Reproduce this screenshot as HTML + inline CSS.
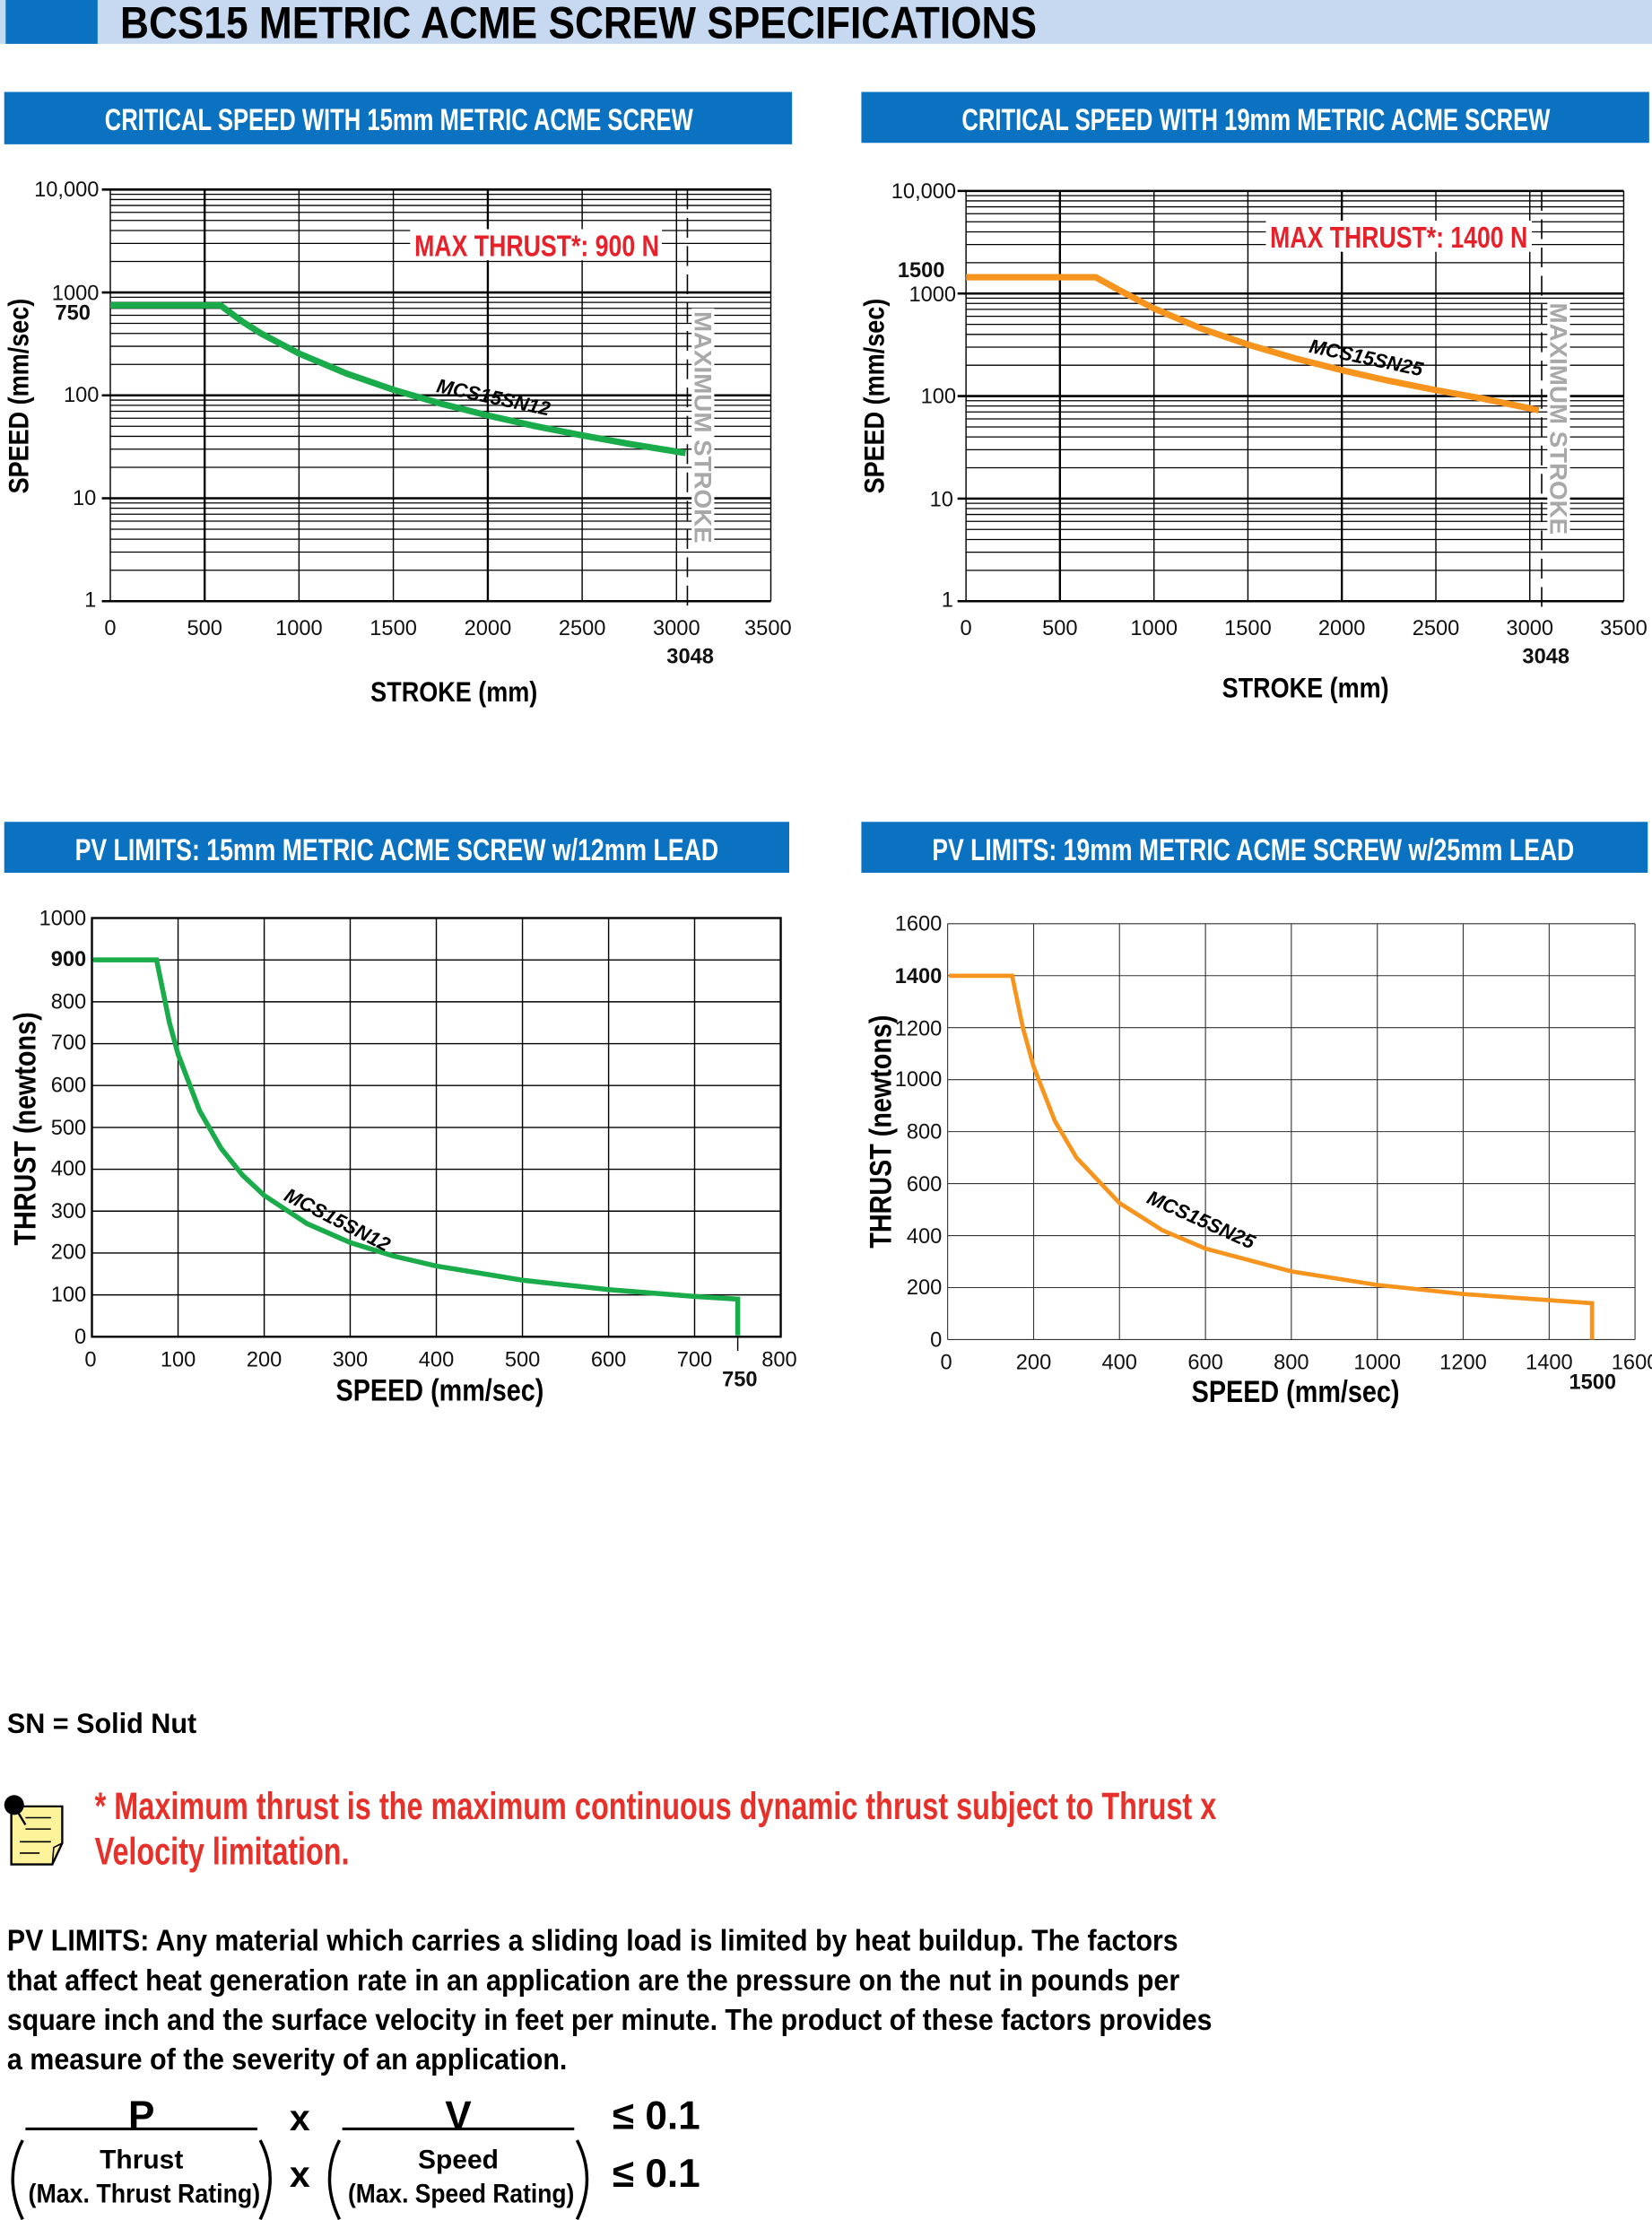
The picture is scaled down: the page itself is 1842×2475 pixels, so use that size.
<!DOCTYPE html>
<html><head><meta charset="utf-8"><style>
html,body{margin:0;padding:0;background:#fff;}
svg{display:block;}
text{font-family:"Liberation Sans Narrow","Liberation Sans",sans-serif;}
.b{font-weight:bold;}
.t{font-size:15px;fill:#111;}
</style></head><body>
<svg width="1842" height="2475" viewBox="0 0 1168 1569.4" preserveAspectRatio="none" xmlns="http://www.w3.org/2000/svg">
<!-- title -->
<rect x="0" y="0" width="1168" height="31" fill="#c6d9f0"/>
<rect x="4" y="0" width="65" height="31" fill="#0a72c0"/>
<text x="85" y="27" class="b" font-size="32" textLength="648" lengthAdjust="spacingAndGlyphs">BCS15 METRIC ACME SCREW SPECIFICATIONS</text>

<!-- headers -->
<rect x="3" y="65" width="557" height="37" fill="#0a72c0"/>
<text x="74" y="92" class="b" font-size="22" fill="#fff" textLength="416" lengthAdjust="spacingAndGlyphs">CRITICAL SPEED WITH 15mm METRIC ACME SCREW</text>
<rect x="609" y="65" width="557" height="36" fill="#0a72c0"/>
<text x="680" y="92" class="b" font-size="22" fill="#fff" textLength="416" lengthAdjust="spacingAndGlyphs">CRITICAL SPEED WITH 19mm METRIC ACME SCREW</text>
<rect x="3" y="581" width="555" height="36" fill="#0a72c0"/>
<text x="53" y="608" class="b" font-size="22" fill="#fff" textLength="455" lengthAdjust="spacingAndGlyphs">PV LIMITS: 15mm  METRIC ACME SCREW w/12mm LEAD</text>
<rect x="609" y="581" width="556" height="36" fill="#0a72c0"/>
<text x="659" y="608" class="b" font-size="22" fill="#fff" textLength="454" lengthAdjust="spacingAndGlyphs">PV LIMITS: 19mm  METRIC ACME SCREW w/25mm LEAD</text>

<!-- CHART 1 -->
<g stroke="#000" fill="none">
<path stroke-width="0.8" d="M78,403.1H545M78,390.3H545M78,381.2H545M78,374.1H545M78,368.4H545M78,363.5H545M78,359.3H545M78,355.6H545
M78,330.35H545M78,317.55H545M78,308.45H545M78,301.35H545M78,295.65H545M78,290.75H545M78,286.55H545M78,282.85H545
M78,257.6H545M78,244.8H545M78,235.7H545M78,228.6H545M78,222.9H545M78,218H545M78,213.8H545M78,210.1H545
M78,184.85H545M78,172.05H545M78,162.95H545M78,155.85H545M78,150.15H545M78,145.25H545M78,141.05H545M78,137.35H545"/>
<g stroke-width="1.6"><line x1="72" x2="545" y1="134" y2="134"/><line x1="72" x2="545" y1="206.75" y2="206.75"/><line x1="72" x2="545" y1="279.5" y2="279.5"/><line x1="72" x2="545" y1="352.25" y2="352.25"/><line x1="72" x2="545" y1="425" y2="425"/></g>
<g stroke-width="0.9"><line x1="78" x2="78" y1="134" y2="425"/><line x1="211.4" x2="211.4" y1="134" y2="425"/><line x1="278.1" x2="278.1" y1="134" y2="425"/><line x1="411.6" x2="411.6" y1="134" y2="425"/><line x1="478.3" x2="478.3" y1="134" y2="425"/><line x1="545" x2="545" y1="134" y2="425"/></g>
<g stroke-width="1.5"><line x1="144.7" x2="144.7" y1="134" y2="425"/><line x1="344.9" x2="344.9" y1="134" y2="425"/></g>
<line x1="486" x2="486" y1="134" y2="430" stroke-width="1" stroke-dasharray="14,6"/>
</g>
<rect x="290" y="162" width="178" height="22" fill="#fff"/>
<text x="293" y="181" class="b" font-size="21" fill="#e8202a" textLength="173" lengthAdjust="spacingAndGlyphs">MAX THRUST*: 900 N</text>
<rect x="489" y="218" width="16" height="168" fill="#fff"/>
<text transform="translate(491,220) rotate(90)" class="b" font-size="17" fill="#a8a8a8" textLength="164" lengthAdjust="spacingAndGlyphs">MAXIMUM STROKE</text>
<polyline fill="none" stroke="#1aab4b" stroke-width="4.5" points="78,215.8 155.8,215.8 171.4,227.4 184.7,235.8 211.4,249.9 244.8,264 278.1,275.5 311.5,285.3 344.9,293.7 378.2,301.2 411.6,307.8 444.9,313.8 484.7,320.3"/>
<text transform="translate(308,277) rotate(12)" class="b" font-size="14" font-style="italic">MCS15SN12</text>
<g class="t" text-anchor="end">
<text x="70" y="139">10,000</text><text x="70" y="212">1000</text><text x="64" y="226" class="b">750</text><text x="70" y="284">100</text><text x="68" y="357">10</text><text x="68" y="429">1</text>
</g>
<g class="t" text-anchor="middle">
<text x="78" y="449">0</text><text x="144.7" y="449">500</text><text x="211.4" y="449">1000</text><text x="278.1" y="449">1500</text><text x="344.9" y="449">2000</text><text x="411.6" y="449">2500</text><text x="478.3" y="449">3000</text><text x="543" y="449">3500</text>
<text x="488" y="469" class="b">3048</text>
</g>
<text x="321" y="496" class="b" font-size="20" text-anchor="middle" textLength="118" lengthAdjust="spacingAndGlyphs">STROKE (mm)</text>
<text transform="translate(20,280) rotate(-90)" class="b" font-size="20" text-anchor="middle" textLength="138" lengthAdjust="spacingAndGlyphs">SPEED (mm/sec)</text>

<!-- CHART 2 -->
<g stroke="#000" fill="none">
<path stroke-width="0.8" d="M683,403.2H1148M683,390.4H1148M683,381.4H1148M683,374.3H1148M683,368.6H1148M683,363.7H1148M683,359.5H1148M683,355.8H1148
M683,330.7H1148M683,317.9H1148M683,308.9H1148M683,301.8H1148M683,296.1H1148M683,291.2H1148M683,287H1148M683,283.3H1148
M683,258.2H1148M683,245.4H1148M683,236.4H1148M683,229.3H1148M683,223.6H1148M683,218.7H1148M683,214.5H1148M683,210.8H1148
M683,185.7H1148M683,172.9H1148M683,163.9H1148M683,156.8H1148M683,151.1H1148M683,146.2H1148M683,142H1148M683,138.3H1148"/>
<g stroke-width="1.6"><line x1="677" x2="1148" y1="135" y2="135"/><line x1="677" x2="1148" y1="207.5" y2="207.5"/><line x1="677" x2="1148" y1="280" y2="280"/><line x1="677" x2="1148" y1="352.5" y2="352.5"/><line x1="677" x2="1148" y1="425" y2="425"/></g>
<g stroke-width="0.9"><line x1="683" x2="683" y1="135" y2="425"/><line x1="815.9" x2="815.9" y1="135" y2="425"/><line x1="882.3" x2="882.3" y1="135" y2="425"/><line x1="1015.2" x2="1015.2" y1="135" y2="425"/><line x1="1081.6" x2="1081.6" y1="135" y2="425"/><line x1="1148" x2="1148" y1="135" y2="425"/></g>
<g stroke-width="1.5"><line x1="749.4" x2="749.4" y1="135" y2="425"/><line x1="948.7" x2="948.7" y1="135" y2="425"/></g>
<line x1="1090" x2="1090" y1="135" y2="430" stroke-width="1" stroke-dasharray="14,6"/>
</g>
<rect x="895" y="156" width="188" height="22" fill="#fff"/>
<text x="898" y="175" class="b" font-size="21" fill="#e8202a" textLength="182" lengthAdjust="spacingAndGlyphs">MAX THRUST*: 1400 N</text>
<rect x="1094" y="212" width="16" height="168" fill="#fff"/>
<text transform="translate(1096,214) rotate(90)" class="b" font-size="17" fill="#a8a8a8" textLength="164" lengthAdjust="spacingAndGlyphs">MAXIMUM STROKE</text>
<polyline fill="none" stroke="#f7941d" stroke-width="4.5" points="683,196 774.7,196 789.3,204 815.9,218.1 849.1,232.2 882.3,243.6 915.5,253.3 948.7,261.7 981.9,269.2 1015.2,275.8 1048.4,281.8 1088,290"/>
<text transform="translate(925,249) rotate(12)" class="b" font-size="14" font-style="italic">MCS15SN25</text>
<g class="t" text-anchor="end">
<text x="676" y="140">10,000</text><text x="668" y="196" class="b">1500</text><text x="676" y="213">1000</text><text x="676" y="285">100</text><text x="674" y="358">10</text><text x="674" y="429">1</text>
</g>
<g class="t" text-anchor="middle">
<text x="683" y="449">0</text><text x="749.4" y="449">500</text><text x="815.9" y="449">1000</text><text x="882.3" y="449">1500</text><text x="948.7" y="449">2000</text><text x="1015.2" y="449">2500</text><text x="1081.6" y="449">3000</text><text x="1148" y="449">3500</text>
<text x="1093" y="469" class="b">3048</text>
</g>
<text x="923" y="493" class="b" font-size="20" text-anchor="middle" textLength="118" lengthAdjust="spacingAndGlyphs">STROKE (mm)</text>
<text transform="translate(625,280) rotate(-90)" class="b" font-size="20" text-anchor="middle" textLength="138" lengthAdjust="spacingAndGlyphs">SPEED (mm/sec)</text>

<!-- PV 1 -->
<g stroke="#000" stroke-width="0.9" fill="none">
<line x1="65" x2="552" y1="678.6" y2="678.6"/><line x1="65" x2="552" y1="708.2" y2="708.2"/><line x1="65" x2="552" y1="737.8" y2="737.8"/><line x1="65" x2="552" y1="767.4" y2="767.4"/><line x1="65" x2="552" y1="797" y2="797"/><line x1="65" x2="552" y1="826.6" y2="826.6"/><line x1="65" x2="552" y1="856.2" y2="856.2"/><line x1="65" x2="552" y1="885.8" y2="885.8"/><line x1="65" x2="552" y1="915.4" y2="915.4"/>
<line x1="125.9" x2="125.9" y1="649" y2="945"/><line x1="186.8" x2="186.8" y1="649" y2="945"/><line x1="247.6" x2="247.6" y1="649" y2="945"/><line x1="308.5" x2="308.5" y1="649" y2="945"/><line x1="369.4" x2="369.4" y1="649" y2="945"/><line x1="430.3" x2="430.3" y1="649" y2="945"/><line x1="491.1" x2="491.1" y1="649" y2="945"/>
<line x1="521.6" x2="521.6" y1="945" y2="955"/>
<rect x="65" y="649" width="487" height="296" stroke-width="1.5"/>
</g>
<polyline fill="none" stroke="#1aab4b" stroke-width="3.5" points="66,678.6 110.7,678.6 119.8,723 125.9,745.2 141.1,785.2 156.3,811.8 171.5,830.8 186.8,845.1 217.2,865.1 247.6,878.4 278.1,887.9 308.5,895 369.4,905 430.3,911.7 491.1,916.5 521.6,918.4 521.6,944"/>
<text transform="translate(200,848) rotate(27)" class="b" font-size="14" font-style="italic">MCS15SN12</text>
<g class="t" text-anchor="end">
<text x="61" y="654">1000</text><text x="61" y="683" class="b">900</text><text x="61" y="713">800</text><text x="61" y="742">700</text><text x="61" y="772">600</text><text x="61" y="802">500</text><text x="61" y="831">400</text><text x="61" y="861">300</text><text x="61" y="890">200</text><text x="61" y="920">100</text><text x="61" y="950">0</text>
</g>
<g class="t" text-anchor="middle">
<text x="64" y="966">0</text><text x="125.9" y="966">100</text><text x="186.8" y="966">200</text><text x="247.6" y="966">300</text><text x="308.5" y="966">400</text><text x="369.4" y="966">500</text><text x="430.3" y="966">600</text><text x="491.1" y="966">700</text><text x="551" y="966">800</text>
<text x="523" y="980" class="b">750</text>
</g>
<text x="311" y="990" class="b" font-size="22" text-anchor="middle" textLength="147" lengthAdjust="spacingAndGlyphs">SPEED (mm/sec)</text>
<text transform="translate(25,798) rotate(-90)" class="b" font-size="22" text-anchor="middle" textLength="165" lengthAdjust="spacingAndGlyphs">THRUST (newtons)</text>

<!-- PV 2 -->
<g stroke="#333" stroke-width="0.7" fill="none">
<line x1="670" x2="1156" y1="653" y2="653"/><line x1="670" x2="1156" y1="689.75" y2="689.75"/><line x1="670" x2="1156" y1="726.5" y2="726.5"/><line x1="670" x2="1156" y1="763.25" y2="763.25"/><line x1="670" x2="1156" y1="800" y2="800"/><line x1="670" x2="1156" y1="836.75" y2="836.75"/><line x1="670" x2="1156" y1="873.5" y2="873.5"/><line x1="670" x2="1156" y1="910.25" y2="910.25"/><line x1="670" x2="1156" y1="947" y2="947"/>
<line x1="670" x2="670" y1="653" y2="947"/><line x1="730.8" x2="730.8" y1="653" y2="947"/><line x1="791.5" x2="791.5" y1="653" y2="947"/><line x1="852.3" x2="852.3" y1="653" y2="947"/><line x1="913" x2="913" y1="653" y2="947"/><line x1="973.8" x2="973.8" y1="653" y2="947"/><line x1="1034.5" x2="1034.5" y1="653" y2="947"/><line x1="1095.3" x2="1095.3" y1="653" y2="947"/><line x1="1156" x2="1156" y1="653" y2="947"/>
</g>
<polyline fill="none" stroke="#f7941d" stroke-width="3" points="671,689.8 715.6,689.8 723.2,726.5 730.8,754.1 745.9,792.7 761.1,818.4 791.5,850.5 821.9,869.8 852.3,882.7 913,898.8 973.8,908.4 1034.5,914.8 1125.6,921.3 1125.6,947"/>
<text transform="translate(810,850) rotate(24)" class="b" font-size="14" font-style="italic">MCS15SN25</text>
<g class="t" text-anchor="end">
<text x="666" y="658">1600</text><text x="666" y="695" class="b">1400</text><text x="666" y="732">1200</text><text x="666" y="768">1000</text><text x="666" y="805">800</text><text x="666" y="842">600</text><text x="666" y="879">400</text><text x="666" y="915">200</text><text x="666" y="952">0</text>
</g>
<g class="t" text-anchor="middle">
<text x="669" y="968">0</text><text x="730.8" y="968">200</text><text x="791.5" y="968">400</text><text x="852.3" y="968">600</text><text x="913" y="968">800</text><text x="973.8" y="968">1000</text><text x="1034.5" y="968">1200</text><text x="1095.3" y="968">1400</text><text x="1156" y="968">1600</text>
<text x="1126" y="982" class="b">1500</text>
</g>
<text x="916" y="991" class="b" font-size="22" text-anchor="middle" textLength="147" lengthAdjust="spacingAndGlyphs">SPEED (mm/sec)</text>
<text transform="translate(630,800) rotate(-90)" class="b" font-size="22" text-anchor="middle" textLength="165" lengthAdjust="spacingAndGlyphs">THRUST (newtons)</text>

<!-- bottom text -->
<text x="5" y="1225" class="b" font-size="20" textLength="134" lengthAdjust="spacingAndGlyphs">SN = Solid Nut</text>
<g>
<path d="M8,1277 H44 V1303 L37,1318 H8 Z" fill="#fdf39a" stroke="#000" stroke-width="1.5"/>
<path d="M37,1318 L38,1306 L44,1303" fill="none" stroke="#000" stroke-width="1"/>
<g stroke="#000" stroke-width="1" fill="none"><path d="M18,1285 h18"/><path d="M18,1293 h18"/><path d="M14,1302 h22"/><path d="M14,1310 h14"/></g>
<circle cx="10" cy="1276" r="7" fill="#000"/><line x1="12" y1="1280" x2="18" y2="1290" stroke="#000" stroke-width="1.5"/>
</g>
<text x="67" y="1286" class="b" font-size="27" fill="#e8302a" textLength="793" lengthAdjust="spacingAndGlyphs">* Maximum thrust is the maximum continuous dynamic thrust subject to Thrust x</text>
<text x="67" y="1318" class="b" font-size="27" fill="#e8302a" textLength="180" lengthAdjust="spacingAndGlyphs">Velocity limitation.</text>
<g class="b" font-size="21">
<text x="5" y="1379" textLength="828" lengthAdjust="spacingAndGlyphs">PV LIMITS: Any material which carries a sliding load is limited by heat buildup. The factors</text>
<text x="5" y="1407" textLength="829" lengthAdjust="spacingAndGlyphs">that affect heat generation rate in an application are the pressure on the nut in pounds per</text>
<text x="5" y="1435" textLength="852" lengthAdjust="spacingAndGlyphs">square inch and the surface velocity in feet per minute. The product of these factors provides</text>
<text x="5" y="1463" textLength="396" lengthAdjust="spacingAndGlyphs">a measure of the severity of an application.</text>
</g>
<g class="b">
<text x="100" y="1505" font-size="28" text-anchor="middle">P</text>
<line x1="18" x2="182" y1="1505" y2="1505" stroke="#000" stroke-width="2"/>
<text x="212" y="1506" font-size="26" text-anchor="middle">x</text>
<text x="324" y="1505" font-size="28" text-anchor="middle">V</text>
<line x1="242" x2="406" y1="1505" y2="1505" stroke="#000" stroke-width="2"/>
<text x="433" y="1505" font-size="28">≤ 0.1</text>
<text x="100" y="1533" font-size="19" text-anchor="middle">Thrust</text>
<text x="102" y="1557" font-size="19" text-anchor="middle" textLength="164" lengthAdjust="spacingAndGlyphs">(Max. Thrust Rating)</text>
<text x="212" y="1546" font-size="26" text-anchor="middle">x</text>
<text x="324" y="1533" font-size="19" text-anchor="middle">Speed</text>
<text x="326" y="1557" font-size="19" text-anchor="middle" textLength="160" lengthAdjust="spacingAndGlyphs">(Max. Speed Rating)</text>
<text x="433" y="1546" font-size="28">≤ 0.1</text>
</g>
<g fill="none" stroke="#000" stroke-width="2.2">
<path d="M16,1513 Q2,1540 16,1569"/><path d="M184,1513 Q198,1540 184,1569"/>
<path d="M240,1513 Q226,1540 240,1569"/><path d="M408,1513 Q422,1540 408,1569"/>
</g>
</svg>
</body></html>
